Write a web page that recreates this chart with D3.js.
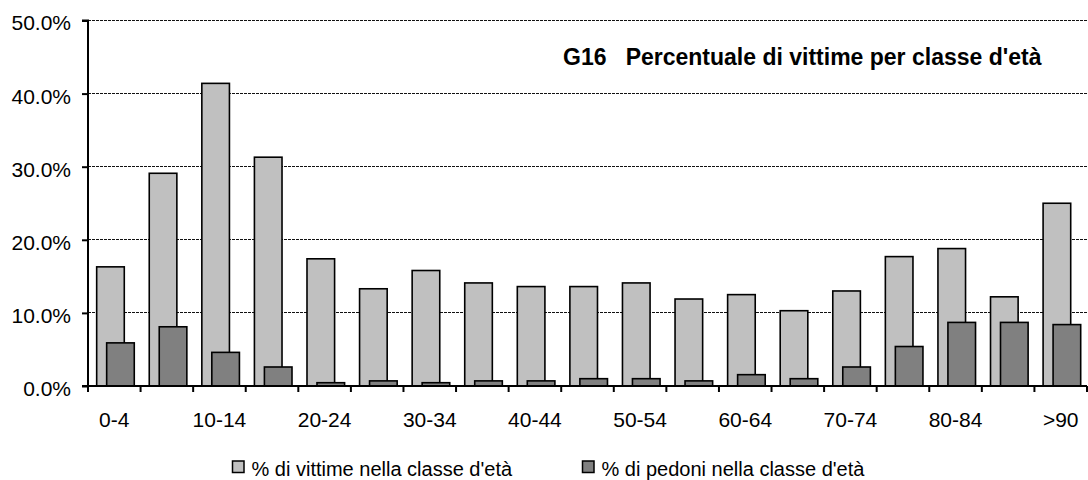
<!DOCTYPE html>
<html>
<head>
<meta charset="utf-8">
<script src="https://cdn.jsdelivr.net/npm/d3@7"></script>
<style>
  html, body { margin: 0; padding: 0; background: #fff; }
  svg { display: block; font-family: "Liberation Sans", Arial, sans-serif; }
</style>
</head>
<body>
<svg id="chart" width="1088" height="480"></svg>
<script>
const categories = ["0-4","5-9","10-14","15-19","20-24","25-29","30-34","35-39","40-44","45-49","50-54","55-59","60-64","65-69","70-74","75-79","80-84","85-89",">90"];
const vittime = [16.3, 29.1, 41.4, 31.3, 17.4, 13.3, 15.8, 14.1, 13.6, 13.6, 14.1, 11.9, 12.5, 10.3, 13.0, 17.7, 18.8, 12.2, 25.0];
const pedoni  = [5.9, 8.1, 4.6, 2.6, 0.45, 0.7, 0.45, 0.7, 0.7, 1.0, 1.0, 0.7, 1.55, 1.0, 2.6, 5.4, 8.7, 8.7, 8.4];
const yTicks = [0, 10, 20, 30, 40, 50];
const seriesNames = ["% di vittime nella classe d'età", "% di pedoni nella classe d'età"];
const seriesColors = ["#c0c0c0", "#808080"];
const title = "G16\u00a0\u00a0\u00a0Percentuale di vittime per classe d'età";

const svg = d3.select("#chart");
const pLeft = 88, pRight = 1087, pTop = 20.5, pBottom = 386;

const x = d3.scaleBand().domain(categories).range([pLeft, pRight]).paddingInner(0).paddingOuter(0);
const y = d3.scaleLinear().domain([0, 50]).range([pBottom, pTop]);
const bw = x.bandwidth();
const barW = bw * 0.525;
const offsets = [bw * 0.165, bw * 0.355];

// gridlines
svg.append("g").selectAll("line")
  .data(yTicks.filter(d => d > 0))
  .join("line")
  .attr("x1", pLeft).attr("x2", pRight)
  .attr("y1", d => y(d)).attr("y2", d => y(d))
  .attr("stroke", "#111").attr("stroke-width", 1)
  .attr("stroke-dasharray", "3,1")
  .attr("shape-rendering", "crispEdges");

// bars
const series = [vittime, pedoni];
series.forEach((vals, si) => {
  svg.append("g").selectAll("rect")
    .data(categories.map((c, i) => ({c, v: vals[i]})))
    .join("rect")
    .attr("x", d => x(d.c) + offsets[si])
    .attr("width", barW)
    .attr("y", d => y(d.v))
    .attr("height", d => y(0) - y(d.v))
    .attr("fill", seriesColors[si])
    .attr("stroke", "#000")
    .attr("stroke-width", 1.6);
});

// y axis
const yAxis = d3.axisLeft(y).tickValues(yTicks).tickSize(6).tickPadding(11)
  .tickFormat(d => d.toFixed(1) + "%");
const gy = svg.append("g").attr("transform", `translate(${pLeft},0)`).call(yAxis);
gy.select(".domain").attr("stroke", "#000").attr("stroke-width", 2).attr("d", `M-6,${pTop}H0V${pBottom}H-6`);
gy.selectAll(".tick line").attr("stroke", "#000").attr("stroke-width", 2);
gy.selectAll(".tick text").attr("font-size", 21).attr("fill", "#000")
  .attr("font-family", '"Liberation Sans", Arial, sans-serif').attr("dy", "0.45em");

// x axis line
svg.append("line").attr("x1", pLeft).attr("x2", pRight).attr("y1", pBottom).attr("y2", pBottom)
  .attr("stroke", "#000").attr("stroke-width", 2);
// boundary ticks
const bounds = categories.map(c => x(c)).concat([pRight]);
svg.append("g").selectAll("line").data(bounds).join("line")
  .attr("x1", d => d).attr("x2", d => d)
  .attr("y1", pBottom).attr("y2", pBottom + 6)
  .attr("stroke", "#000").attr("stroke-width", 2);
// x labels (every other category)
svg.append("g").selectAll("text")
  .data(categories.filter((c, i) => i % 2 === 0))
  .join("text")
  .attr("x", d => x(d) + bw / 2)
  .attr("y", 426.5)
  .attr("text-anchor", "middle")
  .attr("font-size", 21)
  .attr("fill", "#000")
  .text(d => d);

// title
svg.append("text").attr("x", 563).attr("y", 65)
  .attr("font-size", 23).attr("font-weight", "bold").attr("fill", "#000")
  .text(title);

// legend
const legendX = [232.5, 582.5];
seriesNames.forEach((name, i) => {
  svg.append("rect").attr("x", legendX[i]).attr("y", 461).attr("width", 11.5).attr("height", 11.5)
    .attr("fill", seriesColors[i]).attr("stroke", "#000").attr("stroke-width", 1.5);
  svg.append("text").attr("x", legendX[i] + 19).attr("y", 476)
    .attr("font-size", 20).attr("fill", "#000").text(name);
});
</script>
</body>
</html>
